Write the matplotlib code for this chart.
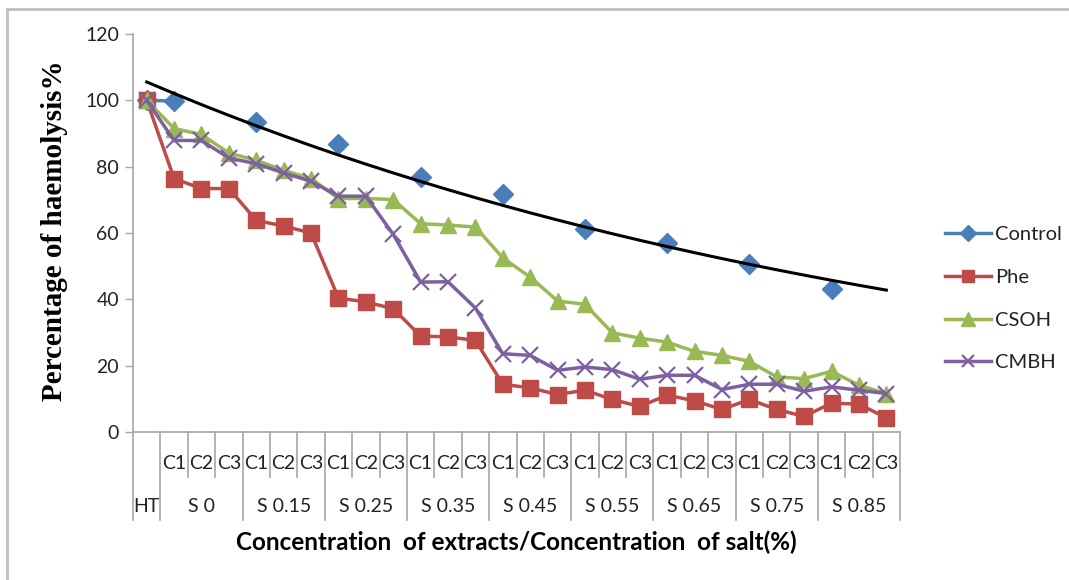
import numpy as np
import matplotlib
matplotlib.use("Agg")
import matplotlib.pyplot as plt
from matplotlib.lines import Line2D

# data
groups = ["HT", "S 0", "S 0.15", "S 0.25", "S 0.35", "S 0.45", "S 0.55", "S 0.65", "S 0.75", "S 0.85"]
subcats = ["C1", "C2", "C3"]

nan = np.nan
control = [100, 99.8, nan, nan, 93.5, nan, nan, 86.9, nan, nan, 76.9, nan, nan, 71.9,
           nan, nan, 61.1, nan, nan, 57.0, nan, nan, 50.8, nan, nan, 43.2, nan, nan]
phe = [100, 76.4, 73.4, 73.4, 63.8, 62.1, 60.0, 40.4, 39.2, 37.2, 28.9, 28.7, 27.6, 14.4,
       13.3, 11.3, 12.6, 9.8, 7.7, 11.1, 9.4, 6.8, 9.8, 6.8, 4.7, 8.7, 8.4, 4.3]
csoh = [100, 91.5, 89.7, 84.1, 81.9, 78.9, 76.4, 70.4, 70.4, 70.1, 62.8, 62.4, 61.8, 52.5,
        46.7, 39.5, 38.5, 29.9, 28.3, 27.1, 24.3, 23.1, 21.3, 16.6, 16.1, 18.3, 14.1, 11.6]
cmbh = [100, 87.9, 87.9, 82.6, 80.9, 78.1, 75.6, 71.1, 71.1, 59.6, 45.2, 45.3, 37.4, 23.6,
        23.1, 18.6, 19.6, 18.8, 15.9, 17.1, 17.1, 12.8, 14.4, 14.4, 12.3, 13.6, 12.6, 11.6]

n = len(phe)
x = np.arange(n)

# exponential trend line through the control points (like Excel's)
ctrl = np.array(control)
ok = ~np.isnan(ctrl)
b, lna = np.polyfit(x[ok] + 1, np.log(ctrl[ok]), 1)
trend = np.exp(lna + b * (x + 1))

fig = plt.figure(figsize=(10.69, 5.8), dpi=100)
ax = fig.add_axes([133 / 1069, 1 - 432 / 580, 767 / 1069, 398 / 580])

ui = "Lato"
grey = "#A6A6A6"
txt = "#222222"

ax.plot(x, control, color="#4A7EBB", lw=2.5, marker="D", ms=10, label="Control")
ax.plot(x, phe, color="#BE4B48", lw=2.5, marker="s", ms=11, label="Phe")
ax.plot(x, csoh, color="#98B954", lw=2.5, marker="^", ms=12, label="CSOH")
ax.plot(x, cmbh, color="#7D60A0", lw=2.5, marker="x", ms=11, mew=1.6, label="CMBH")
ax.plot(x, trend, color="black", lw=2.2)

ax.set_xlim(-0.5, n - 0.5)
ax.set_ylim(0, 120)
ax.set_yticks(range(0, 121, 20))
ax.tick_params(axis="y", length=6, width=1, color=grey, labelsize=14, pad=4)
for t in ax.get_yticklabels():
    t.set_fontfamily(ui)
    t.set_color(txt)
ax.set_xticks([])
for s in ["top", "right"]:
    ax.spines[s].set_visible(False)
for s in ["left", "bottom"]:
    ax.spines[s].set_color(grey)
    ax.spines[s].set_linewidth(1.2)

# category table under the axis
tr = ax.get_xaxis_transform()
y_short, y_long = -0.112, -0.221
ax.plot([-0.5, -0.5], [0, y_long], color=grey, lw=1.2, transform=tr, clip_on=False)
for i in range(n):
    edge = i + 0.5
    long_line = (i == 0) or (i % 3 == 0)
    ax.plot([edge, edge], [0, y_long if long_line else y_short], color=grey, lw=1.2,
            transform=tr, clip_on=False)
    if i > 0:
        ax.text(i, -0.078, subcats[(i - 1) % 3], transform=tr, ha="center", va="center",
                fontsize=14, family=ui, color=txt)
for g, name in enumerate(groups):
    cx = 0 if g == 0 else 3 * g - 1
    ax.text(cx, -0.186, name, transform=tr, ha="center", va="center",
            fontsize=14, family=ui, color=txt)

ax.text(0.5, -0.278, "Concentration  of extracts/Concentration  of salt(%)", transform=ax.transAxes,
        ha="center", va="center", fontsize=17.5, fontweight="bold", family=ui)
fig.text(55 / 1069, 1 - 231 / 580, "Percentage of haemolysis%", rotation=90, ha="center", va="center",
         fontsize=21, fontweight="bold", family="Liberation Serif")

leg = fig.legend(loc="upper left", bbox_to_anchor=(927 / 1069, 1 - 208 / 580), frameon=False,
                 prop={"family": ui, "size": 14.5}, labelspacing=1.27, handlelength=2.3,
                 handletextpad=0.2, markerscale=0.85)
for t in leg.get_texts():
    t.set_color(txt)

# light frame around the chart area
fig.add_artist(Line2D([7 / 1069, 1], [1 - 9 / 580, 1 - 9 / 580], color="#C0C0C0", lw=2))
fig.add_artist(Line2D([7 / 1069, 7 / 1069], [0, 1 - 9 / 580], color="#C0C0C0", lw=2))

fig.savefig("out.png", dpi=100)
